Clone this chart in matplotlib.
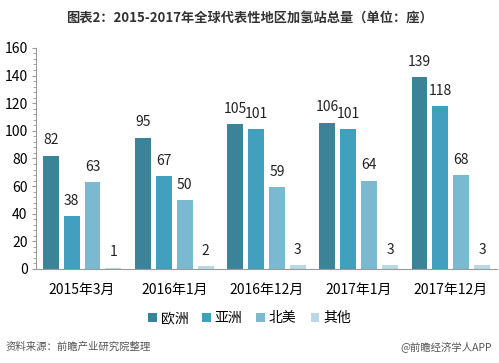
import numpy as np
import matplotlib.pyplot as plt
from matplotlib.ticker import MultipleLocator

plt.rcParams['font.family'] = ['Noto Sans CJK SC', 'DejaVu Sans']

# data
periods = ['2015年3月', '2016年1月', '2016年12月', '2017年1月', '2017年12月']
regions = ['欧洲', '亚洲', '北美', '其他']
europe = [82, 95, 105, 106, 139]
asia = [38, 67, 101, 101, 118]
north_america = [63, 50, 59, 64, 68]
other = [1, 2, 3, 3, 3]
series = [europe, asia, north_america, other]
colors = ['#3a8399', '#40a0bd', '#7bb9d1', '#b9d8e4']

fig = plt.figure(figsize=(4.99, 3.63), dpi=100)
ax = fig.add_axes([0.072, 0.259, 0.924, 0.609])

x = np.arange(len(periods))
w = 0.173
step = 0.227
for i, (vals, c) in enumerate(zip(series, colors)):
    pos = x + (i - 1.5) * step
    ax.bar(pos, vals, width=w, color=c, label=regions[i])
    for p, v in zip(pos, vals):
        ax.text(p, v + 6, str(v), ha='center', va='bottom', fontsize=10, color='#222222')

ax.set_ylim(0, 160)
ax.set_xlim(-0.5, len(periods) - 0.5)
ax.yaxis.set_major_locator(MultipleLocator(20))
ax.yaxis.set_minor_locator(MultipleLocator(4))
ax.set_xticks(x)
ax.set_xticklabels(periods, fontsize=10)
ax.tick_params(axis='x', length=0, pad=10)
ax.tick_params(axis='y', which='major', length=3, color='#999999', labelsize=10, pad=3)
ax.tick_params(axis='y', which='minor', length=2, color='#999999')
for s in ['top', 'right']:
    ax.spines[s].set_visible(False)
ax.spines['left'].set_color('#999999')
ax.spines['bottom'].set_color('#999999')

fig.legend(loc='center', bbox_to_anchor=(0.5, 0.124), ncol=4, frameon=False,
           handlelength=0.6, handleheight=0.6, handletextpad=0.3, columnspacing=1.0,
           fontsize=10)

fig.text(0.5, 0.95, '图表2：2015-2017年全球代表性地区加氢站总量（单位：座）',
         ha='center', va='center', fontsize=9.5, fontweight='bold', color='#333333')
fig.text(0.012, 0.044, '资料来源：前瞻产业研究院整理', ha='left', va='center',
         fontsize=7.5, style='italic', color='#555555')
fig.text(0.985, 0.044, '@前瞻经济学人APP', ha='right', va='center',
         fontsize=7.5, color='#555555')

fig.savefig('out.png', dpi=100)
